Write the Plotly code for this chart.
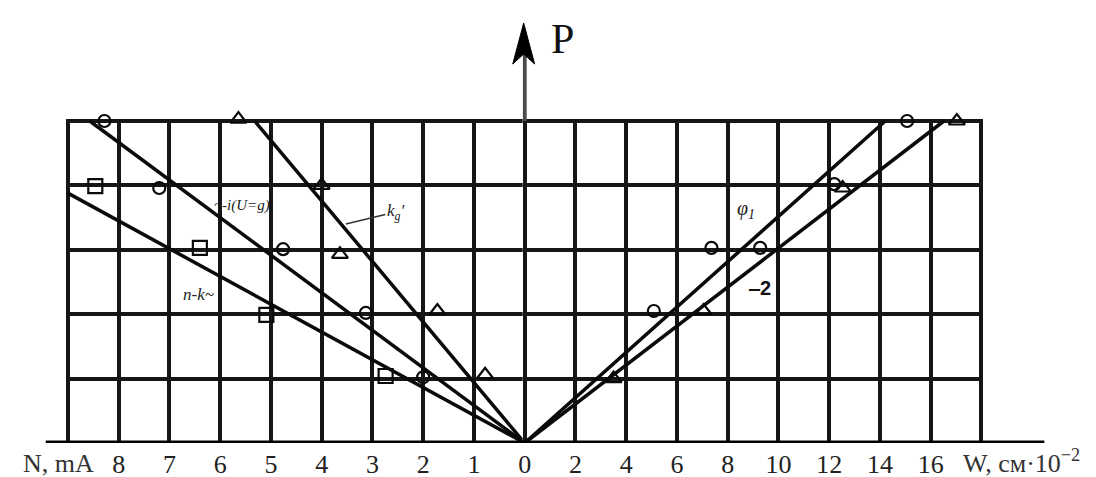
import plotly.graph_objects as go

W_PX, H_PX = 1096, 477

# ---------------- data ----------------
# Left half: P versus N, mA
n_circ_N = [8.28, 7.2, 4.76, 3.13, 2.0]
n_circ_P = [5.0, 3.96, 3.01, 2.02, 1.02]
n_tri_N = [5.64, 4.0, 3.64, 1.72, 0.78]
n_tri_P = [5.03, 4.0, 2.93, 2.05, 1.06]
n_sq_N = [8.46, 6.4, 5.09, 2.74]
n_sq_P = [3.99, 3.03, 1.99, 1.04]
# fitted lines (left)
fit_circ_N = [0, 8.57]
fit_circ_P = [0, 5.0]
fit_tri_N = [0, 5.32]
fit_tri_P = [0, 5.0]
fit_sq_N = [0, 9.0]
fit_sq_P = [0, 3.88]

# Right half: P versus W, cm*10^-2
w_circ_W = [5.09, 7.36, 9.28, 12.2, 15.07]
w_circ_P = [2.05, 3.03, 3.03, 4.02, 5.0]
w_tri_W = [3.5, 7.05, 12.53, 17.03]
w_tri_P = [1.0, 2.05, 3.96, 5.0]
fit1_W = [0, 14.21]
fit1_P = [0, 5.0]
fit2_W = [0, 16.52]
fit2_P = [0, 5.0]

# axis ticks
N_ticks = [0, 1, 2, 3, 4, 5, 6, 7, 8, 9]
N_tick_text = ["0", "1", "2", "3", "4", "5", "6", "7", "8", ""]
W_ticks = [0, 2, 4, 6, 8, 10, 12, 14, 16, 18]
W_tick_text = ["", "2", "4", "6", "8", "10", "12", "14", "16", ""]
P_ticks = [0, 1, 2, 3, 4, 5]

# ---------------- layout helpers ----------------
def px(x):
    return x / W_PX

def py(y):
    return (H_PX - y) / H_PX

# pixel geometry of the grid
X0 = 520.0        # N = 0 / W = 0
N_UNIT = 51.08    # px per mA
W_UNIT = N_UNIT / 2.0
Y0 = 435.0        # P = 0
P_UNIT = 64.4

# ranges padded by ~2 px so that the border grid lines are drawn
PAD = 2.0
N_MAX = 9 + PAD / N_UNIT
W_MIN = -PAD / W_UNIT
W_MAX = 18 + PAD / W_UNIT
P_MAX = 5 + PAD / P_UNIT

LINE = dict(color="#0a0a0a", width=3.5)

fig = go.Figure()

# fitted lines
fig.add_trace(go.Scatter(x=fit_circ_N, y=fit_circ_P, mode="lines", line=LINE, xaxis="x", yaxis="y"))
fig.add_trace(go.Scatter(x=fit_tri_N, y=fit_tri_P, mode="lines", line=LINE, xaxis="x", yaxis="y"))
fig.add_trace(go.Scatter(x=fit_sq_N, y=fit_sq_P, mode="lines", line=LINE, xaxis="x", yaxis="y"))
fig.add_trace(go.Scatter(x=fit1_W, y=fit1_P, mode="lines", line=LINE, xaxis="x2", yaxis="y"))
fig.add_trace(go.Scatter(x=fit2_W, y=fit2_P, mode="lines", line=LINE, xaxis="x2", yaxis="y"))

def mk(symbol, size):
    return dict(symbol=symbol, size=size, color="#0a0a0a", line=dict(color="#0a0a0a", width=2.2))

# markers
fig.add_trace(go.Scatter(x=n_circ_N, y=n_circ_P, mode="markers", cliponaxis=False,
                         marker=mk("circle-open", 12), xaxis="x", yaxis="y"))
fig.add_trace(go.Scatter(x=n_tri_N, y=n_tri_P, mode="markers", cliponaxis=False,
                         marker=mk("triangle-up-open", 14), xaxis="x", yaxis="y"))
fig.add_trace(go.Scatter(x=n_sq_N, y=n_sq_P, mode="markers", cliponaxis=False,
                         marker=mk("square-open", 14), xaxis="x", yaxis="y"))
fig.add_trace(go.Scatter(x=w_circ_W, y=w_circ_P, mode="markers", cliponaxis=False,
                         marker=mk("circle-open", 12), xaxis="x2", yaxis="y"))
fig.add_trace(go.Scatter(x=w_tri_W, y=w_tri_P, mode="markers", cliponaxis=False,
                         marker=mk("triangle-up-open", 14), xaxis="x2", yaxis="y"))

GRID = "#161616"
GW = 3.5
TICKFONT = dict(family="Liberation Serif", size=26, color="#222")

fig.update_layout(
    width=W_PX, height=H_PX,
    margin=dict(l=0, r=0, t=0, b=0),
    paper_bgcolor="white", plot_bgcolor="white",
    showlegend=False,
    xaxis=dict(domain=[px(X0 - N_MAX * N_UNIT), px(X0)], range=[N_MAX, 0], anchor="y",
               tickmode="array", tickvals=N_ticks, ticktext=N_tick_text,
               showgrid=True, gridcolor=GRID, gridwidth=GW, zeroline=False, showline=False,
               ticks="", tickfont=TICKFONT, ticklabelstandoff=3),
    xaxis2=dict(domain=[px(X0 + W_MIN * W_UNIT), px(X0 + W_MAX * W_UNIT)], range=[W_MIN, W_MAX],
                anchor="y",
                tickmode="array", tickvals=W_ticks, ticktext=W_tick_text,
                showgrid=True, gridcolor=GRID, gridwidth=GW, zeroline=False, showline=False,
                ticks="", tickfont=TICKFONT, ticklabelstandoff=3),
    yaxis=dict(domain=[py(Y0), py(Y0 - P_MAX * P_UNIT)], range=[0, P_MAX], anchor="x",
               tickmode="array", tickvals=P_ticks, showticklabels=False,
               showgrid=True, gridcolor=GRID, gridwidth=GW, zeroline=False, showline=False, ticks=""),
)

shapes = [
    # thick baseline
    dict(type="line", xref="paper", yref="y", x0=px(38), x1=px(1043), y0=0, y1=0,
         line=dict(color="black", width=5)),
    # P axis shaft above the grid
    dict(type="line", xref="x2", yref="paper", x0=0, x1=0, y0=py(Y0 - 5 * P_UNIT), y1=py(45),
         line=dict(color="#4a4a4a", width=4)),
    # arrow head
    dict(type="path", xref="paper", yref="paper",
         path=f"M {px(519)},{py(15)} L {px(530)},{py(56)} L {px(519)},{py(46)} L {px(508)},{py(56)} Z",
         fillcolor="black", line=dict(color="black", width=1)),
]
fig.update_layout(shapes=shapes)

SERIF = "Liberation Serif"
ann = [
    dict(text="P", x=px(558), y=py(31), font=dict(family=SERIF, size=42, color="#111")),
    dict(text="N, mA", x=px(51), y=py(455), font=dict(family=SERIF, size=26, color="#333")),
    dict(text="W, см·10<sup>−2</sup>", x=px(1020), y=py(453), font=dict(family=SERIF, size=26, color="#333")),
    dict(text="<i>~-i(U=g)</i>", x=px(236), y=py(197), font=dict(family=SERIF, size=15, color="#222")),
    dict(text="<i>n-k~</i>", x=px(192), y=py(286), font=dict(family=SERIF, size=17, color="#222")),
    dict(text="<i>φ<sub>1</sub></i>", x=px(743), y=py(201), font=dict(family=SERIF, size=20, color="#222")),
    dict(text="<b>‒2</b>", x=px(756), y=py(280), font=dict(family="Liberation Sans", size=20, color="#111")),
]
for a in ann:
    a.update(xref="paper", yref="paper", showarrow=False, xanchor="center", yanchor="middle")
fig.update_layout(annotations=ann)
fig.add_annotation(text="<i>k<sub>g</sub>'</i>", xref="paper", yref="paper", x=px(340), y=py(216),
                   ax=50, ay=-12, showarrow=True, arrowhead=0, arrowwidth=1.5, arrowcolor="#333",
                   font=dict(family=SERIF, size=17, color="#222"))

fig.write_html("out.html")
